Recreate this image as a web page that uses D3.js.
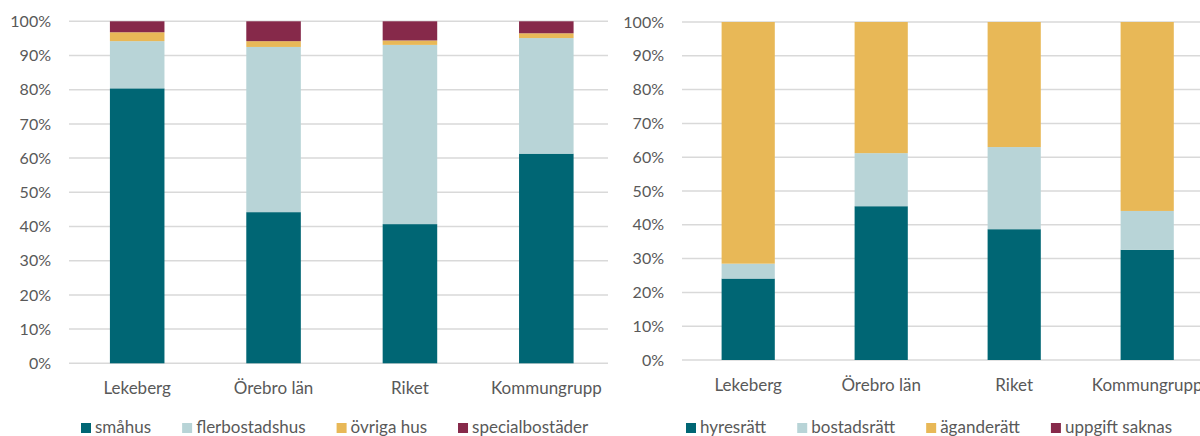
<!DOCTYPE html>
<html>
<head>
<meta charset="utf-8">
<script src="https://cdn.jsdelivr.net/npm/d3@7"></script>
<style>
  html, body { margin: 0; padding: 0; background: #fff; }
  svg { display: block; font-family: Lato, "Open Sans", sans-serif; }
</style>
</head>
<body>
<svg id="chart" width="1200" height="436"></svg>
<script>
const categories = ["Lekeberg", "Örebro län", "Riket", "Kommungrupp"];
const yTicks = [0, 0.1, 0.2, 0.3, 0.4, 0.5, 0.6, 0.7, 0.8, 0.9, 1.0];

// Left chart: hustyp
const leftSeries = ["småhus", "flerbostadshus", "övriga hus", "specialbostäder"];
const smahus          = [80.4, 44.2, 40.7, 61.3];
const flerbostadshus  = [13.8, 48.3, 52.4, 33.8];
const ovrigaHus       = [2.6, 1.7, 1.3, 1.4];
const specialbostader = [3.2, 5.8, 5.6, 3.5];

// Right chart: upplåtelseform
const rightSeries = ["hyresrätt", "bostadsrätt", "äganderätt", "uppgift saknas"];
const hyresratt     = [24.1, 45.5, 38.7, 32.6];
const bostadsratt   = [4.4, 15.7, 24.3, 11.5];
const aganderatt    = [71.5, 38.8, 37.0, 55.9];
const uppgiftSaknas = [0.0, 0.0, 0.0, 0.0];

const colors = ["#006674", "#B8D4D7", "#E8B857", "#86294A"];

const svg = d3.select("#chart");

function drawChart(cfg) {
  const { series, values, xRange, yRange, gridX, tickX, legendStart, catY, legendY } = cfg;
  const g = svg.append("g");
  const x = d3.scaleBand().domain(categories).range(xRange).paddingInner(0.6).paddingOuter(0.3);
  const y = d3.scaleLinear().domain([0, 1]).range(yRange);

  // gridlines
  g.selectAll("line.grid").data(yTicks).join("line")
    .attr("x1", gridX[0]).attr("x2", gridX[1])
    .attr("y1", d => y(d)).attr("y2", d => y(d))
    .attr("stroke", "#D9D9D9").attr("stroke-width", 1.5);

  // y tick labels
  g.selectAll("text.ytick").data(yTicks).join("text")
    .attr("x", tickX).attr("y", d => y(d))
    .attr("dy", "0.35em").attr("text-anchor", "end")
    .attr("font-size", 16).attr("fill", "#595959")
    .text(d => d3.format(".0%")(d));

  // stack
  const rows = categories.map((c, i) => {
    const o = { cat: c };
    series.forEach((s, j) => o[s] = values[j][i] / 100);
    return o;
  });
  const stack = d3.stack().keys(series)(rows);
  g.selectAll("g.layer").data(stack).join("g")
    .attr("fill", (d, i) => colors[i])
    .selectAll("rect").data(d => d).join("rect")
    .attr("x", d => x(d.data.cat))
    .attr("width", x.bandwidth())
    .attr("y", d => y(d[1]))
    .attr("height", d => Math.max(0, y(d[0]) - y(d[1])));

  // category labels
  g.selectAll("text.cat").data(categories).join("text")
    .attr("x", d => x(d) + x.bandwidth() / 2).attr("y", catY)
    .attr("text-anchor", "middle").attr("font-size", 17).attr("fill", "#595959")
    .text(d => d);

  // legend
  let lx = legendStart;
  series.forEach((s, i) => {
    g.append("rect").attr("x", lx).attr("y", legendY - 10).attr("width", 10).attr("height", 10)
      .attr("fill", colors[i]);
    const t = g.append("text").attr("x", lx + 14).attr("y", legendY)
      .attr("font-size", 17).attr("fill", "#595959").text(s);
    lx += 14 + t.node().getComputedTextLength() + 31;
  });
}

drawChart({
  series: leftSeries,
  values: [smahus, flerbostadshus, ovrigaHus, specialbostader],
  xRange: [69, 614.5], yRange: [363.3, 21.3],
  gridX: [69, 608], tickX: 51, legendStart: 81, catY: 394, legendY: 433
});
drawChart({
  series: rightSeries,
  values: [hyresratt, bostadsratt, aganderatt, uppgiftSaknas],
  xRange: [681.7, 1213.7], yRange: [360, 22],
  gridX: [682, 1200], tickX: 664, legendStart: 686, catY: 391, legendY: 433
});
</script>
</body>
</html>
